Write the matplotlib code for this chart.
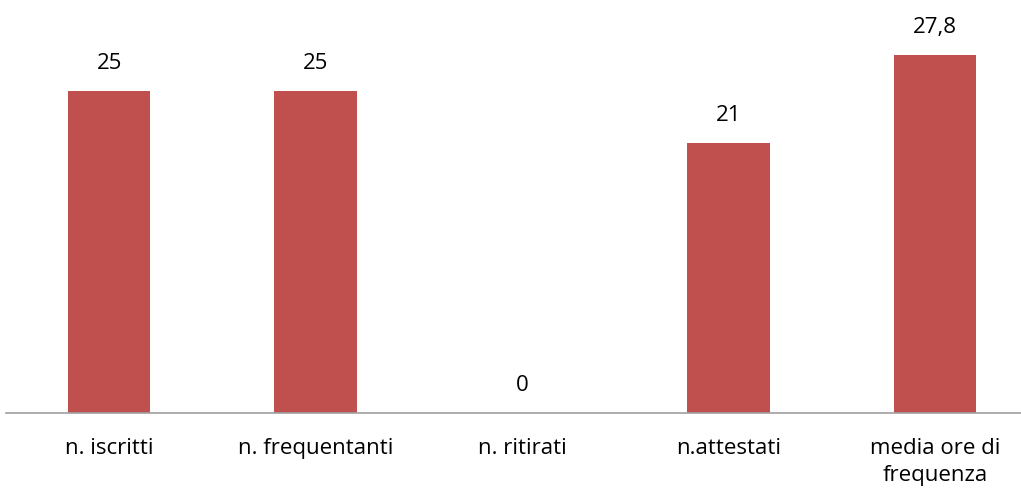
import matplotlib
matplotlib.use("Agg")
import matplotlib.pyplot as plt

categorie = ["n. iscritti", "n. frequentanti", "n. ritirati", "n.attestati",
             "media ore di\nfrequenza"]
valori = [25, 25, 0, 21, 27.8]
etichette = ["25", "25", "0", "21", "27,8"]

plt.rcParams["font.family"] = ["Open Sans", "DejaVu Sans"]

fig = plt.figure(figsize=(10.21, 4.95), dpi=100)
ax = fig.add_axes([6 / 1021, 82 / 495, 1032 / 1021, 413 / 495])

x = list(range(len(categorie)))
ax.bar(x, valori, width=0.40, color="#C0504D")

for xi, v, t in zip(x, valori, etichette):
    ax.annotate(t, (xi, v), xytext=(0, 12), textcoords="offset points",
                ha="center", va="bottom", fontsize=16)

ax.set_xlim(-0.5, 4.5)
ax.set_ylim(0, 32.07)
ax.set_xticks(x)
ax.set_xticklabels(categorie, fontsize=16, linespacing=1.4)
ax.tick_params(axis="x", length=0, pad=18)
ax.set_yticks([])
for s in ["top", "right", "left"]:
    ax.spines[s].set_visible(False)
ax.spines["bottom"].set_color("#A0A0A0")
ax.spines["bottom"].set_linewidth(1.2)

fig.savefig("out.png", dpi=100)
